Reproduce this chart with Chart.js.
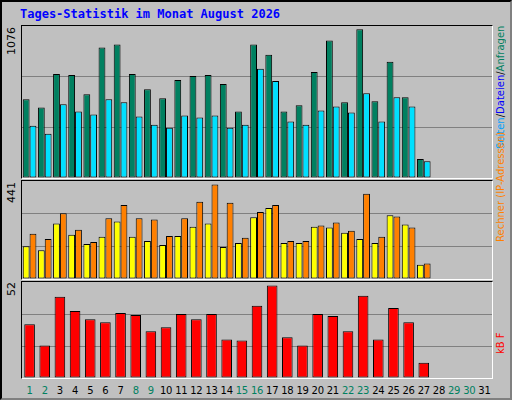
<!DOCTYPE html>
<html>
<head>
<meta charset="utf-8">
<script src="https://cdn.jsdelivr.net/npm/chart.js@4"></script>
<style>
  body { margin: 0; }
  #frame { position: relative; width: 508px; height: 396px; background: #c0c0c0; border: 2px solid #000; border-right-color: #808080; border-bottom-color: #808080; }
  .panel { position: absolute; left: 19px; width: 470px; border: 1px solid #000; border-right-color: #fff; border-bottom-color: #fff; }
  .panel canvas { display: block; }
  #title { position: absolute; left: 18px; top: 5px; font: bold 12px "DejaVu Sans Mono", monospace; color: #0000ff; }
  .ylab { position: absolute; left: 3px; width: 14px; height: 40px; writing-mode: vertical-rl; transform: rotate(180deg); text-align: right; font: 11px "DejaVu Sans", sans-serif; color: #000; }
  .leg { position: absolute; left: 493px; width: 13px; writing-mode: vertical-rl; transform: rotate(180deg); text-align: right; font: 10px "DejaVu Sans", sans-serif; white-space: nowrap; }
  .day { position: absolute; top: 383px; width: 16px; text-align: center; font: 10px "DejaVu Sans", sans-serif; letter-spacing: -0.3px; }
</style>
</head>
<body>
<div id="frame">
  <div id="title">Tages-Statistik im Monat August 2026</div>
  <div class="ylab" style="top:25px">1076</div>
  <div class="ylab" style="top:180px">441</div>
  <div class="ylab" style="top:280px">52</div>
  <div class="leg" style="top:24px;height:150px"><span style="color:#00a0ff">Seiten</span><span style="color:#000">/</span><span style="color:#0000ff">Dateien</span><span style="color:#000">/</span><span style="color:#008060">Anfragen</span></div>
  <div class="leg" style="top:130px;height:128px"><span style="color:#ff8000">Rechner (IP-Adressen)</span></div>
  <div class="leg" style="top:330px;height:42px;color:#ff0000">kB F</div>
  <div class="panel" style="top:23px;height:152px"><canvas id="c1" width="470" height="152"></canvas></div>
  <div class="panel" style="top:178px;height:98px"><canvas id="c2" width="470" height="98"></canvas></div>
  <div class="panel" style="top:279px;height:96px"><canvas id="c3" width="470" height="96"></canvas></div>
</div>
<script>
const days = Array.from({length: 31}, (_, i) => String(i + 1));
const weekend = [1, 2, 8, 9, 15, 16, 22, 23, 29, 30];

const anfragen = [570,511,753,746,606,944,966,753,643,577,709,738,746,680,482,966,892,482,526,768,995,548,1076,555,841,584,137];
const seiten   = [379,320,533,482,460,570,548,445,386,364,452,438,452,364,386,790,702,408,386,489,518,474,614,408,584,518,122];
const besuche  = [153,134,259,206,163,197,268,197,177,158,201,244,259,149,168,288,331,168,168,244,240,216,187,168,297,254,67];
const rechner  = [211,187,307,230,173,283,345,283,278,201,283,360,441,355,192,312,345,177,177,249,264,225,398,197,292,240,72];
const kbytes   = [30.3,18.3,45.7,37.7,33.1,31.4,36.6,35.4,26.3,28.6,36,33.1,36,21.7,21.1,40.6,52,22.9,18.3,36,34.9,26.3,46.3,21.7,39.4,31.4,8.6];

// day labels under the bottom panel
const frame = document.getElementById('frame');
days.forEach((d, i) => {
  const el = document.createElement('div');
  el.className = 'day';
  el.textContent = d;
  el.style.left = (20 + (i + 0.5) * 470 / 31 - 8) + 'px';
  el.style.color = weekend.includes(i + 1) ? '#008060' : '#000';
  frame.appendChild(el);
});

function makeChart(id, max, datasets) {
  new Chart(document.getElementById(id), {
    type: 'bar',
    data: { labels: days, datasets: datasets.map(d => ({
      data: d.data, backgroundColor: d.color, borderColor: '#000', borderWidth: 1,
      borderSkipped: false, barPercentage: 1, categoryPercentage: d.cat
    })) },
    options: {
      responsive: false, animation: false,
      layout: { padding: 0 },
      plugins: { legend: { display: false }, tooltip: { enabled: false } },
      scales: {
        x: { display: false },
        y: {
          min: 0, max: max, display: true,
          afterBuildTicks: axis => { axis.ticks = [0, max / 3, max * 2 / 3, max].map(v => ({ value: v })); },
          ticks: { display: false },
          border: { display: false },
          grid: { color: ctx => (ctx.index === 1 || ctx.index === 2) ? '#808080' : 'rgba(0,0,0,0)', drawTicks: false }
        }
      }
    }
  });
}

makeChart('c1', 1100, [{ data: anfragen, color: '#008060', cat: 0.9 }, { data: seiten, color: '#00e0ff', cat: 0.9 }]);
makeChart('c2', 457, [{ data: besuche, color: '#ffff00', cat: 0.9 }, { data: rechner, color: '#ff8000', cat: 0.9 }]);
makeChart('c3', 54, [{ data: kbytes, color: '#ff0000', cat: 0.7 }]);
</script>
</body>
</html>
